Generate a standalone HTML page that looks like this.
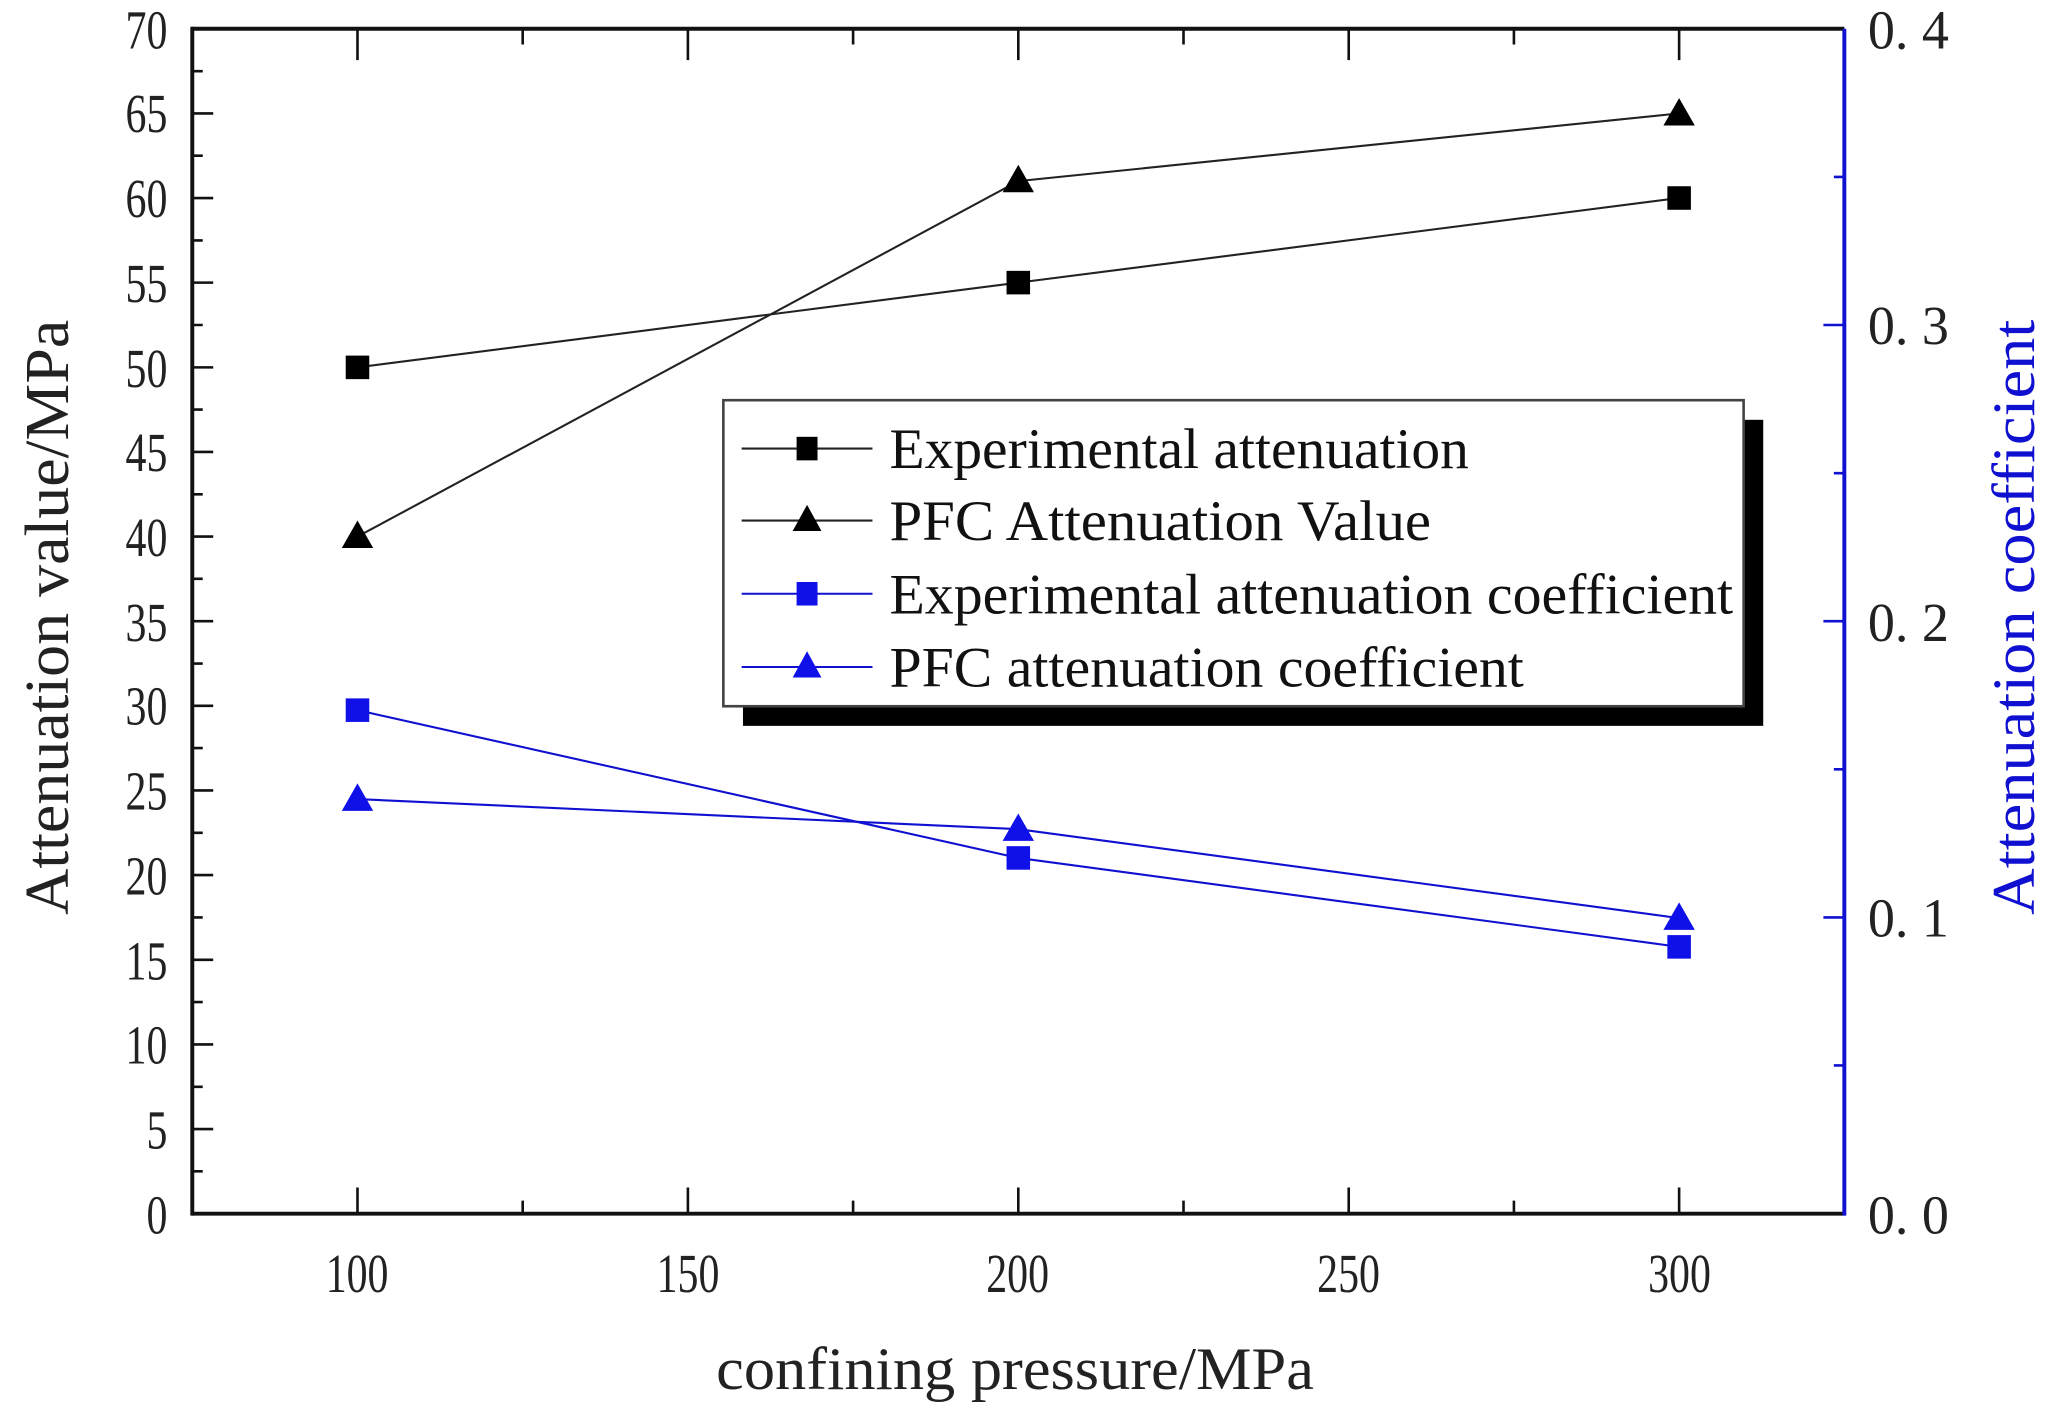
<!DOCTYPE html>
<html><head><meta charset="utf-8"><style>
html,body{margin:0;padding:0;background:#fff;}
svg{display:block;}
text{font-family:"Liberation Serif","Noto Serif CJK SC",serif;}
</style></head><body>
<svg width="2051" height="1419" viewBox="0 0 1568 1085" preserveAspectRatio="none" xmlns="http://www.w3.org/2000/svg">
<rect width="1568" height="1085" fill="#fff"/>
<rect x="568" y="321" width="780" height="234" fill="#000"/>
<rect x="553" y="306" width="780" height="234" fill="#fff" stroke="#444" stroke-width="2"/>
<g stroke="#111" stroke-width="3" fill="none">
<line x1="147" y1="22" x2="1410" y2="22"/>
<line x1="147" y1="928" x2="1410" y2="928"/>
<line x1="147" y1="20.5" x2="147" y2="929.5"/>
</g>
<line x1="1410" y1="22" x2="1410" y2="929.5" stroke="#1010d0" stroke-width="3"/>
<g stroke="#111" stroke-width="2">
<path d="M147 928h16M147 863.3h16M147 798.6h16M147 733.9h16M147 669.1h16M147 604.4h16M147 539.7h16M147 475h16M147 410.3h16M147 345.6h16M147 280.9h16M147 216.1h16M147 151.4h16M147 86.7h16M147 22h16"/>
<path d="M147 895.6h8M147 831h8M147 766.2h8M147 701.5h8M147 636.8h8M147 572h8M147 507.4h8M147 442.6h8M147 378h8M147 313.2h8M147 248.5h8M147 183.8h8M147 119h8M147 54.4h8"/>
<path d="M273.3 928v-20M525.9 928v-20M778.5 928v-20M1031.1 928v-20M1283.7 928v-20"/>
<path d="M399.6 928v-10M652.2 928v-10M904.8 928v-10M1157.4 928v-10"/>
<path d="M273.3 22v24M525.9 22v24M778.5 22v24M1031.1 22v24M1283.7 22v24"/>
<path d="M399.6 22v12M652.2 22v12M904.8 22v12M1157.4 22v12"/>
</g>
<g stroke="#1010d0" stroke-width="2">
<path d="M1410 701.5h-16M1410 475h-16M1410 248.5h-16"/>
<path d="M1410 814.7h-8M1410 588.2h-8M1410 361.8h-8M1410 135.3h-8"/>
</g>
<g font-size="42" fill="#222" text-anchor="end" lengthAdjust="spacingAndGlyphs">
<text x="128" y="943" textLength="16" lengthAdjust="spacingAndGlyphs">0</text>
<text x="128" y="878" textLength="16" lengthAdjust="spacingAndGlyphs">5</text>
<text x="128" y="813" textLength="32" lengthAdjust="spacingAndGlyphs">10</text>
<text x="128" y="749" textLength="32" lengthAdjust="spacingAndGlyphs">15</text>
<text x="128" y="684" textLength="32" lengthAdjust="spacingAndGlyphs">20</text>
<text x="128" y="619" textLength="32" lengthAdjust="spacingAndGlyphs">25</text>
<text x="128" y="554" textLength="32" lengthAdjust="spacingAndGlyphs">30</text>
<text x="128" y="490" textLength="32" lengthAdjust="spacingAndGlyphs">35</text>
<text x="128" y="425" textLength="32" lengthAdjust="spacingAndGlyphs">40</text>
<text x="128" y="360" textLength="32" lengthAdjust="spacingAndGlyphs">45</text>
<text x="128" y="296" textLength="32" lengthAdjust="spacingAndGlyphs">50</text>
<text x="128" y="231" textLength="32" lengthAdjust="spacingAndGlyphs">55</text>
<text x="128" y="166" textLength="32" lengthAdjust="spacingAndGlyphs">60</text>
<text x="128" y="101" textLength="32" lengthAdjust="spacingAndGlyphs">65</text>
<text x="128" y="37" textLength="32" lengthAdjust="spacingAndGlyphs">70</text>
</g>
<g font-size="42" fill="#222">
<text x="1428" y="943" textLength="62" lengthAdjust="spacingAndGlyphs">0. 0</text>
<text x="1428" y="716" textLength="62" lengthAdjust="spacingAndGlyphs">0. 1</text>
<text x="1428" y="490" textLength="62" lengthAdjust="spacingAndGlyphs">0. 2</text>
<text x="1428" y="263" textLength="62" lengthAdjust="spacingAndGlyphs">0. 3</text>
<text x="1428" y="37" textLength="62" lengthAdjust="spacingAndGlyphs">0. 4</text>
</g>
<g font-size="42" fill="#222" text-anchor="middle">
<text x="273" y="988" textLength="48" lengthAdjust="spacingAndGlyphs">100</text>
<text x="526" y="988" textLength="48" lengthAdjust="spacingAndGlyphs">150</text>
<text x="778" y="988" textLength="48" lengthAdjust="spacingAndGlyphs">200</text>
<text x="1031" y="988" textLength="48" lengthAdjust="spacingAndGlyphs">250</text>
<text x="1284" y="988" textLength="48" lengthAdjust="spacingAndGlyphs">300</text>
</g>
<text x="776" y="1062" font-size="46" fill="#222" text-anchor="middle" textLength="457" lengthAdjust="spacingAndGlyphs">confining pressure/MPa</text>
<text transform="translate(52,472) rotate(-90)" font-size="48" fill="#222" text-anchor="middle" textLength="455" lengthAdjust="spacingAndGlyphs">Attenuation value/MPa</text>
<text transform="translate(1555,472) rotate(-90)" font-size="46" fill="#1010d0" text-anchor="middle" font-family="Liberation Sans, sans-serif" textLength="455" lengthAdjust="spacingAndGlyphs">Attenuation coefficient</text>
<g fill="none" stroke-width="1.6">
<polyline points="273.3,280.9 778.5,216.1 1283.7,151.4" stroke="#222"/>
<polyline points="273.3,410.3 778.5,138.5 1283.7,86.7" stroke="#222"/>
<polyline points="273.3,543 778.5,656 1283.7,724" stroke="#1010d0"/>
<polyline points="273.3,611 778.5,634 1283.7,702" stroke="#1010d0"/>
</g>
<g fill="#000">
<rect x="264.3" y="271.9" width="18" height="18"/><rect x="769.5" y="207.1" width="18" height="18"/><rect x="1274.7" y="142.4" width="18" height="18"/>
<path d="M273.3 398l12 21h-24z"/><path d="M778.5 126l12 21h-24z"/><path d="M1283.7 75l12 21h-24z"/>
</g>
<g fill="#1010e8">
<rect x="264.3" y="534" width="18" height="18"/><rect x="769.5" y="647" width="18" height="18"/><rect x="1274.7" y="715" width="18" height="18"/>
<path d="M273.3 599l12 21h-24z"/><path d="M778.5 622l12 21h-24z"/><path d="M1283.7 690l12 21h-24z"/>
</g>
<g stroke-width="1.6">
<line x1="567" y1="343" x2="667" y2="343" stroke="#222"/>
<line x1="567" y1="398" x2="667" y2="398" stroke="#222"/>
<line x1="567" y1="454" x2="667" y2="454" stroke="#1010d0"/>
<line x1="567" y1="510" x2="667" y2="510" stroke="#1010d0"/>
</g>
<rect x="609" y="334" width="16" height="18" fill="#000"/>
<path d="M617 386l11 20h-22z" fill="#000"/>
<rect x="609" y="445" width="16" height="18" fill="#1010e8"/>
<path d="M617 498l11 20h-22z" fill="#1010e8"/>
<g font-size="44" fill="#111">
<text x="680" y="358" textLength="443" lengthAdjust="spacingAndGlyphs">Experimental attenuation</text>
<text x="680" y="413" textLength="414" lengthAdjust="spacingAndGlyphs">PFC Attenuation Value</text>
<text x="680" y="469" textLength="645" lengthAdjust="spacingAndGlyphs">Experimental attenuation coefficient</text>
<text x="680" y="525" textLength="485" lengthAdjust="spacingAndGlyphs">PFC attenuation coefficient</text>
</g>
</svg>
</body></html>
